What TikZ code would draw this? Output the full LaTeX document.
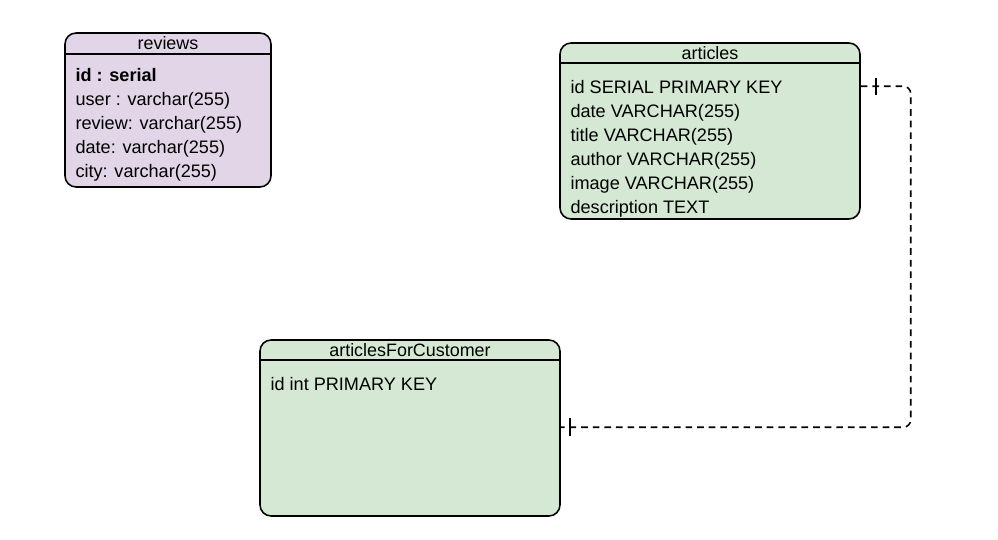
\documentclass[tikz,border=0pt]{standalone}
\usepackage{fontspec}
\setmainfont{Liberation Sans}
\usetikzlibrary{positioning, calc, decorations.markings}

\definecolor{lilac}{HTML}{E1D5E7}
\definecolor{mint}{HTML}{D5E8D4}

\begin{document}
\begin{tikzpicture}[
x=0.02cm, y=-0.02cm,
table/.style={draw, line width=0.9pt, rounded corners=0.22cm, inner sep=0pt},
title/.style={font=\fontsize{10.2}{12}\selectfont, inner sep=0pt},
rows/.style={font=\fontsize{10.3}{13.6}\selectfont, align=left, inner sep=0pt, anchor=north west},
link/.style={line width=0.9pt, dash pattern=on 3.8pt off 2.8pt, rounded corners=0.15cm,
  postaction={decorate, decoration={markings,
    mark=at position 0.3cm with {\draw[solid] (0,-8.5) -- (0,8.5);},
    mark=at position -0.18cm with {\draw[solid] (0,-9) -- (0,9);}}}}
]
\useasboundingbox (0,0) rectangle (998,540);

% --- Tables ---
\node[table, fill=lilac, minimum width=4.12cm, minimum height=3.08cm] (reviews) at (168,110) {};
\node[table, fill=mint, minimum width=6cm, minimum height=3.52cm] (articles) at (710,131) {};
\node[table, fill=mint, minimum width=6cm, minimum height=3.52cm] (customer) at (410,428) {};

% --- En-têtes ---
\draw[line width=0.9pt] ($(reviews.north west)+(0,22)$) -- ($(reviews.north east)+(0,22)$);
\draw[line width=0.9pt] ($(articles.north west)+(0,21)$) -- ($(articles.north east)+(0,21)$);
\draw[line width=0.9pt] ($(customer.north west)+(0,21)$) -- ($(customer.north east)+(0,21)$);
\node[title] (reviews-title) at ($(reviews.north)+(0,11)$) {reviews};
\node[title] (articles-title) at ($(articles.north)+(0,10.5)$) {articles};
\node[title] (customer-title) at ($(customer.north)+(0,10.5)$) {articlesForCustomer};

% --- Champs ---
\node[rows] (reviews-rows) at ($(reviews.north west)+(11,36)$) {\textbf{id : serial}\\
user : varchar(255)\\ review: varchar(255)\\ date: varchar(255)\\ city: varchar(255)};
\node[rows] (articles-rows) at ($(articles.north west)+(11,38)$) {id SERIAL PRIMARY KEY\\
date VARCHAR(255)\\ title VARCHAR(255)\\ author VARCHAR(255)\\ image VARCHAR(255)\\ description TEXT};
\node[rows] (customer-rows) at ($(customer.north west)+(11,38)$) {id int PRIMARY KEY};

% --- Relation ---
\coordinate (articles-out) at ($(articles.north east)+(0,44)$);
\coordinate (customer-in) at ($(customer.north east)+(0,88)$);
\draw[link] (articles-out) -- ++(50,0) |- (customer-in);

\end{tikzpicture}
\end{document}
